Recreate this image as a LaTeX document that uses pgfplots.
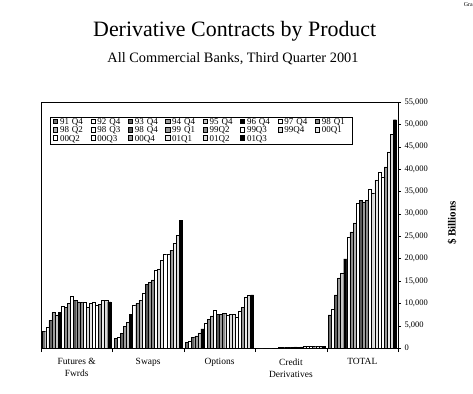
\documentclass[border=0pt]{standalone}
\usepackage{pgfplots}
\usepackage{pgfplotstable}
\pgfplotsset{compat=1.18}
\usepackage{fontspec}
\setmainfont{Liberation Serif}

\pgfplotstableread{
c s1 s2 s3 s4 s5 s6 s7 s8 s9 s10 s11 s12 s13 s14 s15 s16 s17 s18 s19 s20 s21 s22
0 3730 4630 6190 7910 7390 7990 9400 9030 10000 11640 10670 10300 10220 10300 9100 10000 10220 9550 9780 10670 10670 10300
1 2090 2460 3280 4780 5750 7460 9550 9930 10670 12310 14250 14630 15220 17310 17690 19630 20970 20970 21870 23430 25220 28580
2 1340 1570 2460 2690 3360 4250 5520 6420 7160 8430 7540 7540 7690 7390 7540 7540 6940 8210 9100 11340 11790 11870
3 0 0 0 0 0 0 55 91 129 162 144 191 234 234 287 301 362 379 426 352 360 367
4 7390 8730 11870 15670 16790 19930 24850 25970 27990 32460 32990 32540 32990 35600 34700 37610 39250 38280 40520 43880 47760 51040
}\datatable

\begin{document}
\begin{tikzpicture}[x=1bp,y=1bp]
\useasboundingbox (0,0) rectangle (473,393);
\node[anchor=base,font=\fontsize{22}{24}\selectfont] at (234.7,357) {Derivative Contracts by Product};
\node[anchor=base,font=\fontsize{14.4}{16}\selectfont] at (233,331) {All Commercial Banks, Third Quarter 2001};
\node[anchor=base east,inner sep=0pt,font=\fontsize{6}{7}\selectfont] at (473,387) {Gra};
\node[rotate=90,font=\fontsize{11}{13}\selectfont\bfseries] at (452,170) {\$ Billions};
\begin{axis}[
  at={(41bp,45bp)}, anchor=south west,
  scale only axis, width=357bp, height=246bp,
  ybar=0pt, bar width=3.1bp,
  xmin=-0.5, xmax=4.5, ymin=0, ymax=55000,
  xtick={0,...,4},
  xticklabels={{Futures \&\\Fwrds},{Swaps},{Options},{Credit\\Derivatives},{TOTAL}},
  xticklabel style={align=center,font=\fontsize{9.5}{12}\selectfont,yshift=-4bp},
  minor xtick={-0.5,0.5,...,4.5},
  major x tick style={draw=none},
  minor tick length=4bp,
  xtick pos=bottom,
  ytick={0,5000,...,55000},
  ytick pos=right,
  yticklabel pos=right,
  tick align=outside,
  major tick length=3bp,
  scaled y ticks=false,
  yticklabel style={font=\fontsize{8.5}{10}\selectfont,anchor=west,/pgf/number format/1000 sep={,}},
  /pgf/number format/assume math mode=true,
  axis line style={black},
  tick style={black},
  legend columns=8,
  legend cell align=left,
  legend image code/.code={\draw[#1,draw=black,line width=0.4bp] (0bp,-1bp) rectangle (4.2bp,3.7bp);},
  legend style={at={(0.025,0.939)}, anchor=north west, draw=black, line width=0.6bp,
    inner xsep=3bp, inner ysep=1bp, column sep=1.8bp,
    /tikz/every even column/.append style={column sep=2.7bp},
    nodes={inner sep=0.4bp, text height=5.9bp, text depth=1.6bp, text width=27.5bp, font=\fontsize{9}{9}\selectfont}},
  every axis plot/.append style={draw=black, line width=0.4bp},
]
\addplot[fill=black!55] table[x=c,y=s1]{\datatable};
\addplot[fill=white] table[x=c,y=s2]{\datatable};
\addplot[fill=black!60] table[x=c,y=s3]{\datatable};
\addplot[fill=black!38] table[x=c,y=s4]{\datatable};
\addplot[fill=black!22] table[x=c,y=s5]{\datatable};
\addplot[fill=black] table[x=c,y=s6]{\datatable};
\addplot[fill=white] table[x=c,y=s7]{\datatable};
\addplot[fill=black!45] table[x=c,y=s8]{\datatable};
\addplot[fill=black!30] table[x=c,y=s9]{\datatable};
\addplot[fill=white] table[x=c,y=s10]{\datatable};
\addplot[fill=black!65] table[x=c,y=s11]{\datatable};
\addplot[fill=black!40] table[x=c,y=s12]{\datatable};
\addplot[fill=black!45] table[x=c,y=s13]{\datatable};
\addplot[fill=white] table[x=c,y=s14]{\datatable};
\addplot[fill=black!15] table[x=c,y=s15]{\datatable};
\addplot[fill=black!10] table[x=c,y=s16]{\datatable};
\addplot[fill=white] table[x=c,y=s17]{\datatable};
\addplot[fill=white] table[x=c,y=s18]{\datatable};
\addplot[fill=black!40] table[x=c,y=s19]{\datatable};
\addplot[fill=black!8] table[x=c,y=s20]{\datatable};
\addplot[fill=black!15] table[x=c,y=s21]{\datatable};
\addplot[fill=black] table[x=c,y=s22]{\datatable};
\legend{91 Q4,92 Q4,93 Q4,94 Q4,95 Q4,96 Q4,97 Q4,98 Q1,98 Q2,98 Q3,98 Q4,99 Q1,99Q2,99Q3,99Q4,00Q1,00Q2,00Q3,00Q4,01Q1,01Q2,01Q3}
\end{axis}
\end{tikzpicture}
\end{document}
